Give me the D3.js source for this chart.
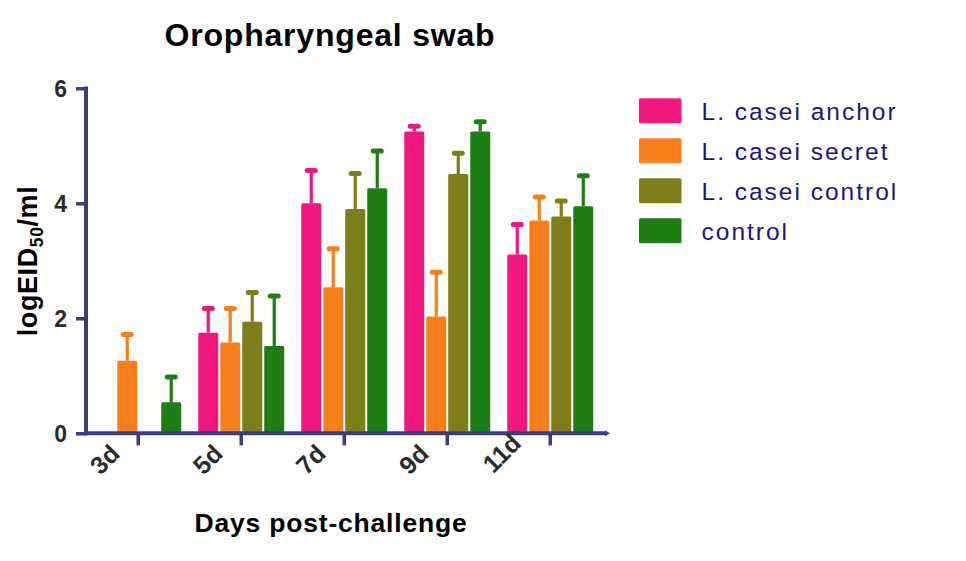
<!DOCTYPE html>
<html>
<head>
<meta charset="utf-8">
<script src="https://cdn.jsdelivr.net/npm/d3@7/dist/d3.min.js"></script>
<style>
  html, body { margin: 0; padding: 0; background: #fff; }
  svg { display: block; font-family: Arial, "Liberation Sans", sans-serif; }
</style>
</head>
<body>
<svg id="chart" width="966" height="561"></svg>
<script>
// ---- data ----
const days = ["3d", "5d", "7d", "9d", "11d"];
const seriesNames = ["L. casei anchor", "L. casei secret", "L. casei control", "control"];
const colors = ["#F0177F", "#F97F1B", "#7E7E1A", "#1E7D14"];
const anchorMean  = [null, 1.75, 4.00, 5.25, 3.11];
const anchorSD    = [null, 0.42, 0.57, 0.09, 0.52];
const secretMean  = [1.26, 1.58, 2.54, 2.03, 3.70];
const secretSD    = [0.46, 0.59, 0.67, 0.77, 0.41];
const lcontrolMean = [null, 1.94, 3.90, 4.51, 3.77];
const lcontrolSD   = [null, 0.51, 0.62, 0.36, 0.27];
const controlMean = [0.54, 1.52, 4.26, 5.25, 3.95];
const controlSD   = [0.44, 0.87, 0.65, 0.17, 0.53];
const yTicks = [0, 2, 4, 6];
const titleText = "Oropharyngeal swab";
const xTitle = "Days post-challenge";

const means = [anchorMean, secretMean, lcontrolMean, controlMean];
const sds = [anchorSD, secretSD, lcontrolSD, controlSD];

const svg = d3.select("#chart");
const axisColor = "#3B3C7C";
const textDark = "#2a2a2a";

const y = d3.scaleLinear().domain([0, 6]).range([433.3, 88.3]);
const x0 = d3.scaleBand().domain(days).range([87, 601.5]).paddingInner(0.165).paddingOuter(0.08);
const x1 = d3.scaleBand().domain(seriesNames).range([0, x0.bandwidth()]).paddingInner(0.09);

// ---- bars ----
const records = [];
days.forEach((d, i) => {
  seriesNames.forEach((s, j) => {
    if (means[j][i] != null) records.push({day: d, series: s, idx: j, mean: means[j][i], sd: sds[j][i]});
  });
});

const g = svg.append("g");
g.selectAll("rect.bar").data(records).enter().append("rect")
  .attr("class", "bar")
  .attr("x", d => x0(d.day) + x1(d.series))
  .attr("y", d => y(d.mean))
  .attr("width", x1.bandwidth())
  .attr("height", d => y(0) - y(d.mean))
  .attr("rx", 1.5)
  .attr("fill", d => colors[d.idx]);

// error bars
g.selectAll("line.err").data(records).enter().append("line")
  .attr("x1", d => x0(d.day) + x1(d.series) + x1.bandwidth() / 2)
  .attr("x2", d => x0(d.day) + x1(d.series) + x1.bandwidth() / 2)
  .attr("y1", d => y(d.mean))
  .attr("y2", d => y(d.mean + d.sd))
  .attr("stroke", d => colors[d.idx])
  .attr("stroke-width", 3.2);
g.selectAll("rect.cap").data(records).enter().append("rect")
  .attr("x", d => x0(d.day) + x1(d.series) + x1.bandwidth() / 2 - 6.5)
  .attr("y", d => y(d.mean + d.sd) - 2.5)
  .attr("width", 13)
  .attr("height", 5)
  .attr("rx", 2.5)
  .attr("fill", d => colors[d.idx]);

// ---- y axis ----
const yAxis = d3.axisLeft(y).tickValues(yTicks).tickSize(10).tickPadding(9).tickFormat(d3.format("d"));
const yg = svg.append("g").attr("transform", "translate(86,0)").call(yAxis);
yg.select(".domain").remove();
yg.selectAll(".tick line").attr("stroke", axisColor).attr("stroke-width", 3.5);
yg.selectAll(".tick text").attr("fill", textDark).attr("font-size", 23).attr("font-weight", "bold")
  .attr("font-family", "Arial, 'Liberation Sans', sans-serif").attr("dy", "0.36em");
svg.append("line").attr("x1", 86).attr("x2", 86).attr("y1", y(6) - 1.8).attr("y2", y(0) + 2)
  .attr("stroke", axisColor).attr("stroke-width", 4);

// ---- x axis ----
const xAxis = d3.axisBottom(x0).tickSize(12).tickFormat("");
const xg = svg.append("g").attr("transform", `translate(0,${y(0)})`).call(xAxis);
xg.select(".domain").remove();
xg.selectAll(".tick line").attr("stroke", axisColor).attr("stroke-width", 3.5);
svg.append("line").attr("x1", 84).attr("x2", 606).attr("y1", y(0)).attr("y2", y(0))
  .attr("stroke", axisColor).attr("stroke-width", 4);
svg.append("path").attr("d", `M605,${y(0) - 3}L610,${y(0)}L605,${y(0) + 3}Z`).attr("fill", axisColor);

// x tick labels, rotated
svg.append("g").selectAll("text").data(days).enter().append("text")
  .attr("transform", d => `translate(${x0(d) + x0.bandwidth() / 2 - 17},${y(0) + 22}) rotate(-45)`)
  .attr("text-anchor", "end")
  .attr("dy", d => d.length > 2 ? "-0.6em" : 0)
  .attr("fill", textDark)
  .attr("font-size", 25)
  .attr("font-weight", "bold")
  .text(d => d);

// ---- titles ----
svg.append("text").attr("x", 330).attr("y", 45.5).attr("text-anchor", "middle")
  .attr("font-size", 32).attr("font-weight", "bold").attr("letter-spacing", 0.8).attr("fill", "#000")
  .text(titleText);
svg.append("text").attr("x", 331).attr("y", 532).attr("text-anchor", "middle")
  .attr("font-size", 26.5).attr("font-weight", "bold").attr("letter-spacing", 0.8).attr("fill", "#000")
  .text(xTitle);
const yt = svg.append("text").attr("transform", "translate(37,261) rotate(-90)")
  .attr("text-anchor", "middle").attr("font-size", 27).attr("font-weight", "bold")
  .attr("letter-spacing", 0.6).attr("fill", "#000");
yt.append("tspan").text("logEID");
yt.append("tspan").attr("font-size", 17.5).attr("dy", 6).text("50");
yt.append("tspan").attr("dy", -6).text("/ml");

// ---- legend ----
const leg = svg.append("g");
seriesNames.forEach((s, j) => {
  const top = 98.3 + j * 40;
  leg.append("rect").attr("x", 639).attr("y", top).attr("width", 42.5).attr("height", 25)
    .attr("rx", 1.5).attr("fill", colors[j]);
  leg.append("text").attr("x", 701.5).attr("y", top + 21.5)
    .attr("font-size", 24.5).attr("letter-spacing", 2.0).attr("fill", "#1A1488")
    .text(s);
});
</script>
</body>
</html>
